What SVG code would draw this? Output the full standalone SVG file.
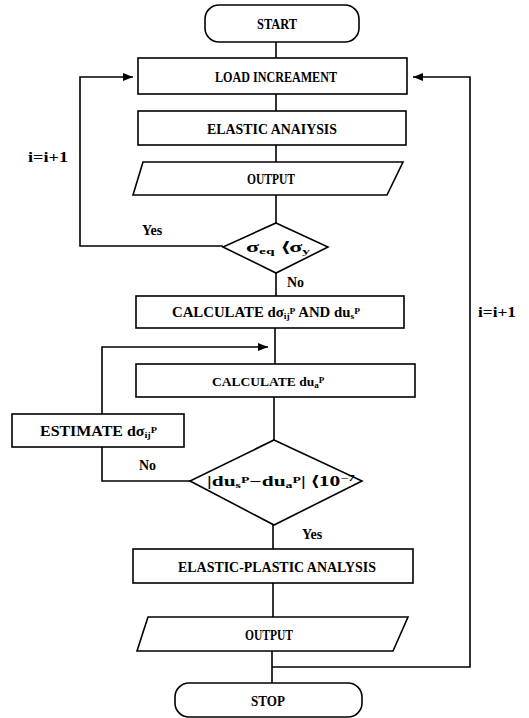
<svg xmlns="http://www.w3.org/2000/svg" width="529" height="718" viewBox="0 0 529 718">
<style>
.s{fill:#fff;stroke:#000;stroke-width:1.6}
.c{fill:none;stroke:#000;stroke-width:1.6}
.t{font-family:"Liberation Serif",serif;font-weight:bold;font-size:14px;fill:#000}
.sub{font-size:9px}
</style>
<defs>
<marker id="ah" markerWidth="10" markerHeight="8" refX="10" refY="4" orient="auto" markerUnits="userSpaceOnUse">
<path d="M0,0 L10,4 L0,8 Z" fill="#000"/>
</marker>
</defs>
<g id="connectors">
<line class="c" x1="276" y1="42" x2="276" y2="58"/>
<line class="c" x1="276" y1="94" x2="276" y2="111"/>
<line class="c" x1="276" y1="145" x2="276" y2="162"/>
<line class="c" x1="276" y1="195" x2="276" y2="223"/>
<polyline class="c" points="223,246 80,246 80,77 133,77" marker-end="url(#ah)"/>
<line class="c" x1="276" y1="273" x2="276" y2="296"/>
<line class="c" x1="275" y1="328" x2="275" y2="364"/>
<line class="c" x1="274" y1="397" x2="274" y2="440"/>
<polyline class="c" points="190,481 102,481 102,447"/>
<polyline class="c" points="102,414 102,347 268,347" marker-end="url(#ah)"/>
<line class="c" x1="273" y1="525" x2="273" y2="549"/>
<line class="c" x1="273" y1="583" x2="273" y2="617"/>
<line class="c" x1="272" y1="651" x2="272" y2="683"/>
<polyline class="c" points="272,667 470,667 470,77 413,77" marker-end="url(#ah)"/>
<text class="t" x="142" y="235">Yes</text>
<text class="t" x="287" y="287">No</text>
<text class="t" x="139" y="470">No</text>
<text class="t" x="302" y="539">Yes</text>
<text class="t" x="28" y="162" textLength="40" lengthAdjust="spacingAndGlyphs">i=i+1</text>
<text class="t" x="478" y="317" textLength="38" lengthAdjust="spacingAndGlyphs">i=i+1</text>
</g>
<g id="start">
<rect class="s" x="205" y="5" width="154" height="37" rx="14"/>
<text class="t" x="277" y="29" text-anchor="middle" textLength="40" lengthAdjust="spacingAndGlyphs">START</text>
</g>
<g id="load">
<rect class="s" x="138" y="58" width="269" height="36"/>
<text class="t" x="276" y="82" text-anchor="middle" textLength="122" lengthAdjust="spacingAndGlyphs">LOAD INCREAMENT</text>
</g>
<g id="elastic">
<rect class="s" x="138" y="111" width="268" height="34"/>
<text class="t" x="272" y="134" text-anchor="middle" textLength="130" lengthAdjust="spacingAndGlyphs">ELASTIC ANAIYSIS</text>
</g>
<g id="output1">
<polygon class="s" points="143,162 403,162 387,195 133,195"/>
<text class="t" x="271" y="184" text-anchor="middle" textLength="48" lengthAdjust="spacingAndGlyphs">OUTPUT</text>
</g>
<g id="decision1">
<polygon class="s" points="276,223 328,247 276,273 223,247"/>
<text class="t" x="246" y="252" textLength="64" lengthAdjust="spacingAndGlyphs">σ<tspan class="sub" dy="2">eq</tspan><tspan dy="-2"> ⟨σ</tspan><tspan class="sub" dy="2">y</tspan></text>
</g>
<g id="calc1">
<rect class="s" x="136" y="296" width="268" height="32"/>
<text class="t" x="172" y="317" textLength="188" lengthAdjust="spacingAndGlyphs">CALCULATE dσ<tspan class="sub" dy="2">ij</tspan><tspan class="sub" dy="-5">P</tspan><tspan dy="3"> AND du</tspan><tspan class="sub" dy="2">s</tspan><tspan class="sub" dy="-5">P</tspan></text>
</g>
<g id="calc2">
<rect class="s" x="136" y="364" width="279" height="33"/>
<text class="t" x="212" y="386" style="font-size:13.5px">CALCULATE du<tspan class="sub" dy="2">a</tspan><tspan class="sub" dy="-5">P</tspan></text>
</g>
<g id="estimate">
<rect class="s" x="12" y="414" width="172" height="33"/>
<text class="t" x="40" y="436" textLength="117" lengthAdjust="spacingAndGlyphs">ESTIMATE dσ<tspan class="sub" dy="2">ij</tspan><tspan class="sub" dy="-5">P</tspan></text>
</g>
<g id="decision2">
<polygon class="s" points="274,440 362,481 274,525 190,481"/>
<text class="t" x="207" y="486" textLength="148" lengthAdjust="spacingAndGlyphs">|du<tspan class="sub" dy="2">s</tspan><tspan class="sub" dy="-5">P</tspan><tspan dy="3">−du</tspan><tspan class="sub" dy="2">a</tspan><tspan class="sub" dy="-5">P</tspan><tspan dy="3">| ⟨10</tspan><tspan class="sub" dy="-5">−7</tspan></text>
</g>
<g id="ep">
<rect class="s" x="133" y="549" width="280" height="34"/>
<text class="t" x="277" y="572" text-anchor="middle" textLength="198" lengthAdjust="spacingAndGlyphs">ELASTIC-PLASTIC ANALYSIS</text>
</g>
<g id="output2">
<polygon class="s" points="148,617 408,617 393,651 137,651"/>
<text class="t" x="269" y="640" text-anchor="middle" textLength="48" lengthAdjust="spacingAndGlyphs">OUTPUT</text>
</g>
<g id="stop">
<rect class="s" x="175" y="683" width="187" height="34" rx="14"/>
<text class="t" x="268" y="706" text-anchor="middle" textLength="34" lengthAdjust="spacingAndGlyphs">STOP</text>
</g>
</svg>
